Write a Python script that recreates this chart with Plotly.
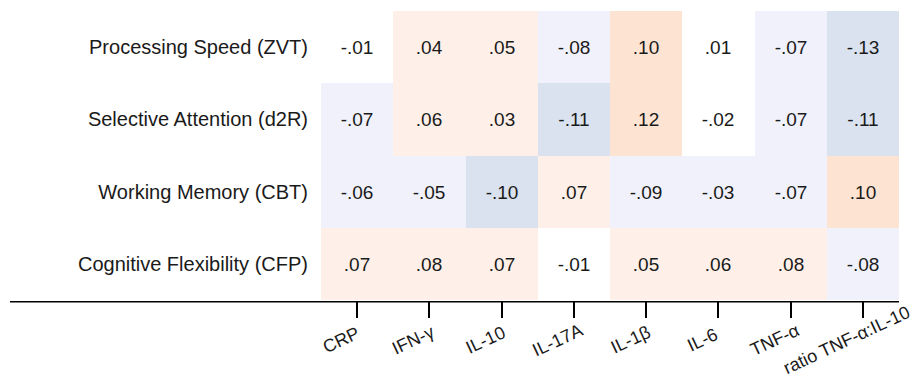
import plotly.graph_objects as go

markers = ["CRP", "IFN-γ", "IL-10", "IL-17A", "IL-1β", "IL-6", "TNF-α", "ratio TNF-α:IL-10"]
domains = ["Processing Speed (ZVT)", "Selective Attention (d2R)",
           "Working Memory (CBT)", "Cognitive Flexibility (CFP)"]
processing_speed = [-0.01, 0.04, 0.05, -0.08, 0.10, 0.01, -0.07, -0.13]
selective_attention = [-0.07, 0.06, 0.03, -0.11, 0.12, -0.02, -0.07, -0.11]
working_memory = [-0.06, -0.05, -0.10, 0.07, -0.09, -0.03, -0.07, 0.10]
cognitive_flexibility = [0.07, 0.08, 0.07, -0.01, 0.05, 0.06, 0.08, -0.08]

z = [processing_speed, selective_attention, working_memory, cognitive_flexibility]


def fmt(v):
    s = f"{v:.2f}"
    return s.replace("0.", ".", 1)


text = [[fmt(v) for v in row] for row in z]

blue = "#D9E2EE"
lav = "#F1F1FB"
white = "#FFFFFF"
peach = "#FEF0E8"
orange = "#FDE4D2"
b1, b2, b3, b4 = 0.1833, 0.4167, 0.5833, 0.8167
colorscale = [
    [0, blue], [b1, blue], [b1, lav], [b2, lav], [b2, white], [b3, white],
    [b3, peach], [b4, peach], [b4, orange], [1, orange],
]

FONT = "Liberation Sans, Arial"

fig = go.Figure(go.Heatmap(
    z=z, x=markers, y=domains, text=text, texttemplate="%{text}",
    textfont=dict(family=FONT, size=19, color="#1a1a1a"),
    colorscale=colorscale, zmin=-0.15, zmax=0.15, showscale=False,
    xgap=0, ygap=0,
))

annotations = [
    dict(text=m, x=m, xref="x", y=-0.138, yref="paper",
         xanchor="center", yanchor="middle", xshift=-16,
         textangle=-25, showarrow=False,
         font=dict(family=FONT, size=18, color="#1a1a1a"))
    for m in markers
]

fig.update_layout(
    width=913, height=376,
    margin=dict(l=313, r=22, t=3, b=84),
    plot_bgcolor="white", paper_bgcolor="white",
    font=dict(family=FONT, size=19, color="#1a1a1a"),
    xaxis=dict(ticks="outside", ticklen=17, tickwidth=2, tickcolor="black",
               showticklabels=False, showgrid=False, zeroline=False,
               showline=False, automargin=False,
               range=[-0.5, len(markers) - 0.5]),
    yaxis=dict(autorange="reversed", showgrid=False, zeroline=False,
               showline=False, ticks="", ticklabelstandoff=12,
               automargin=False, tickfont=dict(size=20)),
    shapes=[dict(type="line", xref="paper", yref="paper",
                 x0=(10 - 321) / 578, x1=1, y0=-0.006, y1=-0.006,
                 line=dict(color="black", width=1.5))],
    annotations=annotations,
)

fig.write_html("out.html")
